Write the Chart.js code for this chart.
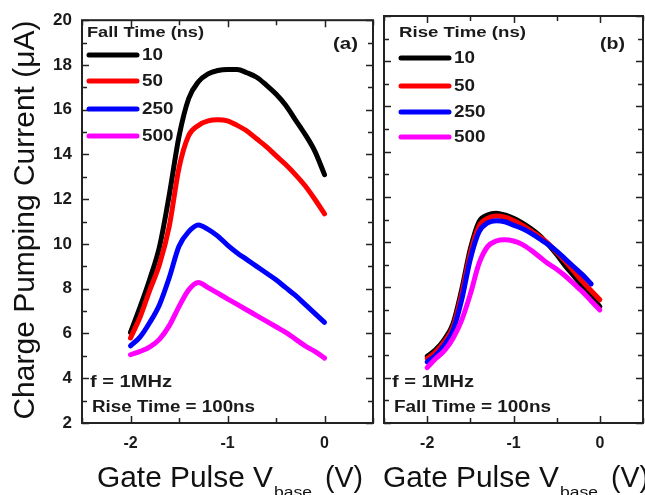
<!DOCTYPE html>
<html>
<head>
<meta charset="utf-8">
<script src="https://cdn.jsdelivr.net/npm/chart.js@4.4.1/dist/chart.umd.min.js"></script>
<style>
html,body{margin:0;padding:0;background:#fff;}
#wrap{position:relative;width:645px;height:495px;overflow:hidden;background:#fff;}
#cA{position:absolute;left:0;top:0;}
#cB{position:absolute;left:378px;top:0;}
</style>
</head>
<body>
<div id="wrap">
<canvas id="cA" width="378" height="495"></canvas>
<canvas id="cB" width="267" height="495"></canvas>
</div>
<script>
// ---------- DATA ----------
const xValues = [-2.0,-1.9,-1.8,-1.7,-1.6,-1.5,-1.4,-1.3,-1.2,-1.1,-1.0,-0.9,-0.8,-0.7,-0.6,-0.5,-0.4,-0.3,-0.2,-0.1,0.0];
const seriesLabels = ["10","50","250","500"];
const seriesColors = ["#000000","#ff0000","#0000ff","#ff00ff"];

// (a) fall time varied
const fallA10  = [6.05,7.2,8.45,9.9,12.2,14.8,16.5,17.25,17.6,17.75,17.8,17.8,17.65,17.45,17.1,16.7,16.2,15.55,14.9,14.15,13.1];
const fallA50  = [5.8,6.75,7.95,9.1,10.8,13.4,14.85,15.3,15.5,15.55,15.5,15.3,15.05,14.7,14.35,13.95,13.55,13.1,12.6,12.0,11.35];
const fallA250 = [5.45,5.85,6.5,7.3,8.5,9.9,10.55,10.85,10.65,10.35,9.95,9.6,9.3,9.0,8.7,8.4,8.05,7.7,7.3,6.9,6.5];
const fallA500 = [5.05,5.2,5.4,5.75,6.35,7.2,7.95,8.28,8.05,7.8,7.55,7.3,7.05,6.8,6.55,6.3,6.05,5.75,5.45,5.2,4.9];

// (b) rise time varied
const riseB10  = [4.95,5.25,5.7,6.4,7.9,9.7,10.9,11.2,11.28,11.2,11.05,10.85,10.6,10.3,9.9,9.45,8.95,8.5,8.05,7.6,7.15];
const riseB50  = [4.85,5.15,5.6,6.25,7.7,9.5,10.7,11.05,11.15,11.1,10.95,10.75,10.5,10.25,9.95,9.55,9.15,8.7,8.25,7.85,7.45];
const riseB250 = [4.7,5.0,5.45,6.1,7.45,9.25,10.45,10.85,10.95,10.9,10.75,10.6,10.4,10.15,9.9,9.6,9.25,8.9,8.55,8.15,null];
const riseB500 = [4.45,4.85,5.2,5.75,6.55,7.7,9.05,9.8,10.05,10.1,10.05,9.9,9.65,9.35,9.05,8.8,8.5,8.15,7.8,7.4,7.0];

const xTickValues = [-2,-1,0];
const xMinorValues = [-2.5,-1.5,-0.5,0.5];
const yTickValues = [2,4,6,8,10,12,14,16,18,20];
const yMinorValues = [3,5,7,9,11,13,15,17,19];

// ---------- STYLE ----------
const FONT = '"Liberation Sans", Arial, sans-serif';
const TEXT = "#1a1a1a";

function putText(ctx, str, x, y, font, width){
    ctx.save();
    ctx.font = font;
    const sx = width ? width / ctx.measureText(str).width : 1;
    ctx.translate(x, y);
    ctx.scale(sx, 1);
    ctx.fillText(str, 0, 0);
    ctx.restore();
}

function buildDatasets(series){
    return series.map((s,i)=>({
        label: seriesLabels[i],
        data: xValues.map((x,j)=>({x:x, y:s[j]})),
        borderColor: seriesColors[i],
        backgroundColor: seriesColors[i],
        borderWidth: 5,
        pointRadius: 0,
        cubicInterpolationMode: "monotone",
        borderCapStyle: "round",
        borderJoinStyle: "round",
        spanGaps: false,
        order: series.length - i
    }));
}

// ---------- FRAME / LEGEND / TEXT PLUGIN ----------
const framePlugin = {
    id: "frame",
    afterDatasetsDraw(chart, args, o){
        const ctx = chart.ctx;
        const a = chart.chartArea;
        const sx = chart.scales.x, sy = chart.scales.y;

        ctx.save();
        ctx.strokeStyle = "#222";
        ctx.lineWidth = 2;
        ctx.strokeRect(a.left, a.top, a.right - a.left, a.bottom - a.top);

        ctx.lineWidth = 1.5;
        ctx.beginPath();
        xTickValues.concat(xMinorValues).forEach(v=>{
            const px = Math.round(sx.getPixelForValue(v)) + 0.5;
            const len = xTickValues.includes(v) ? 7 : 5;
            ctx.moveTo(px, a.bottom); ctx.lineTo(px, a.bottom - len);
            ctx.moveTo(px, a.top); ctx.lineTo(px, a.top + len);
        });
        yTickValues.concat(yMinorValues).forEach(v=>{
            const py = Math.round(sy.getPixelForValue(v)) + 0.5;
            const len = yTickValues.includes(v) ? 7 : 5;
            ctx.moveTo(a.left, py); ctx.lineTo(a.left + len, py);
            ctx.moveTo(a.right, py); ctx.lineTo(a.right - len, py);
        });
        ctx.stroke();

        // legend
        ctx.fillStyle = TEXT;
        ctx.textBaseline = "alphabetic";
        putText(ctx, o.legendTitle, o.legendX, 37, "bold 15px " + FONT, o.legendTitleW);
        chart.data.datasets.forEach((ds,i)=>{
            const ly = o.legendY[i];
            ctx.strokeStyle = ds.borderColor;
            ctx.lineWidth = 5;
            ctx.lineCap = "round";
            ctx.beginPath();
            ctx.moveTo(o.legendX + 2, ly);
            ctx.lineTo(o.legendX + 50, ly);
            ctx.stroke();
            ctx.textBaseline = "middle";
            putText(ctx, ds.label, o.legendX + 55, ly + 1, "bold 16px " + FONT, ds.label.length * 10.5);
        });

        ctx.textBaseline = "alphabetic";
        putText(ctx, o.panel, o.panelX, 49, "bold 17px " + FONT, 25);
        putText(ctx, "f = 1MHz", o.noteX, 387, "bold 16px " + FONT, 82);
        putText(ctx, o.note2, o.noteX + 2, 412, "bold 16px " + FONT, o.note2W);

        // x axis title
        ctx.fillStyle = "#111";
        putText(ctx, "Gate Pulse V", o.titleX, 487, "30px " + FONT, 176);
        putText(ctx, "base", o.titleX + 177, 497, "14px " + FONT, 38);
        putText(ctx, "(V)", o.titleX + 228, 487, "30px " + FONT, 38);

        // y axis title
        if(o.yTitle){
            ctx.save();
            ctx.translate(34, 220);
            ctx.rotate(-Math.PI/2);
            ctx.textAlign = "center";
            ctx.font = "30px " + FONT;
            ctx.fillText(o.yTitle, 0, 0);
            ctx.restore();
        }
        ctx.restore();
    }
};

function makeOptions(cfg){
    return {
        responsive: false,
        animation: false,
        layout: { padding: { top: 16, right: cfg.padRight, left: 0, bottom: 0 } },
        plugins: { legend: { display: false }, tooltip: { enabled: false }, frame: cfg },
        scales: {
            x: {
                type: "linear", min: -2.5, max: 0.5,
                grid: { display: false, drawTicks: false },
                border: { display: false },
                afterBuildTicks: s=>{ s.ticks = xTickValues.map(v=>({value:v})); },
                afterFit: s=>{ s.height = 72; },
                ticks: { padding: 11, color: TEXT, font: { family: FONT, size: 16, weight: "bold" },
                         callback: v=>String(v) }
            },
            y: {
                type: "linear", min: 2, max: 20,
                grid: { display: false, drawTicks: false },
                border: { display: false },
                afterBuildTicks: s=>{ s.ticks = yTickValues.map(v=>({value:v})); },
                afterFit: s=>{ s.width = cfg.yWidth; },
                ticks: { display: cfg.showY, padding: 10, color: TEXT,
                         font: { family: FONT, size: 17, weight: "bold" } }
            }
        }
    };
}

// ---------- INIT ----------
new Chart(document.getElementById("cA"), {
    type: "line",
    data: { datasets: buildDatasets([fallA10, fallA50, fallA250, fallA500]) },
    options: makeOptions({
        padRight: 5, yWidth: 82, showY: true,
        legendTitle: "Fall Time (ns)", legendTitleW: 117, legendX: 87, legendY: [55,81,109,136],
        panel: "(a)", panelX: 333,
        noteX: 90, note2: "Rise Time = 100ns", note2W: 163,
        titleX: 97, yTitle: "Charge Pumping Current (\u03bcA)"
    }),
    plugins: [framePlugin]
});

new Chart(document.getElementById("cB"), {
    type: "line",
    data: { datasets: buildDatasets([riseB10, riseB50, riseB250, riseB500]) },
    options: makeOptions({
        padRight: 2, yWidth: 6, showY: false,
        legendTitle: "Rise Time (ns)", legendTitleW: 127, legendX: 21, legendY: [58,86,112,137],
        panel: "(b)", panelX: 222,
        noteX: 14, note2: "Fall Time = 100ns", note2W: 157,
        titleX: 5, yTitle: null
    }),
    plugins: [framePlugin]
});
</script>
</body>
</html>
